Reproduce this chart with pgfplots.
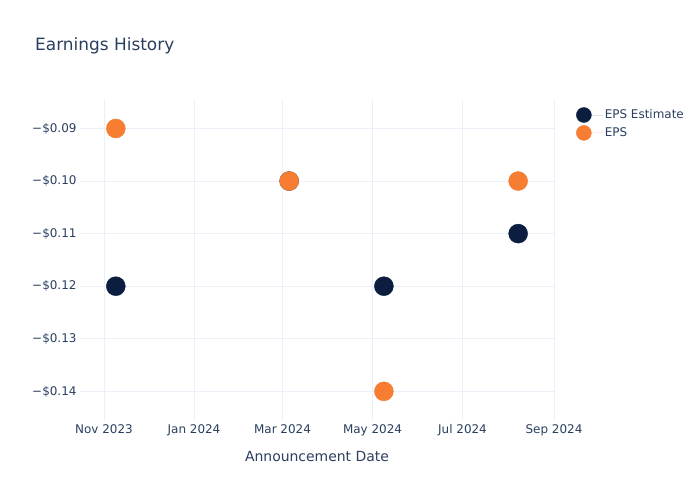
\documentclass[border=0pt]{standalone}
\usepackage{pgfplots}
\pgfplotsset{compat=1.18}
\usepackage{fontspec}
\setmainfont{DejaVu Sans}
\definecolor{txt}{HTML}{2A3F5F}
\definecolor{grid}{HTML}{EBF0F8}
\definecolor{navy}{RGB}{11,30,64}
\definecolor{orng}{RGB}{246,125,50}
\begin{document}
\begin{tikzpicture}[x=1bp,y=1bp]
\path[fill=white] (0,0) rectangle (700,500);
\node[anchor=base west, font=\fontsize{17}{20}\selectfont, text=txt, inner sep=0] at (35,449) {Earnings History};
\begin{axis}[
  at={(80bp,80bp)}, anchor=south west,
  width=474bp, height=320bp, scale only axis,
  xmin=-16.27, xmax=305,
  ymin=-0.14545, ymax=-0.08458,
  axis line style={draw=none},
  tick style={draw=none},
  xtick={0,61,121,182,243,305},
  xticklabels={Nov 2023,Jan 2024,Mar 2024,May 2024,Jul 2024,Sep 2024},
  ytick={-0.14,-0.13,-0.12,-0.11,-0.10,-0.09},
  yticklabels={{−\$0.14},{−\$0.13},{−\$0.12},{−\$0.11},{−\$0.10},{−\$0.09}},
  grid=major,
  major grid style={draw=grid, line width=0.8bp},
  ticklabel style={font=\fontsize{12}{14}\selectfont, text=txt},
  xticklabel style={yshift=-1bp},
  xlabel={Announcement Date},
  xlabel style={font=\fontsize{14}{16}\selectfont, text=txt, yshift=-8bp},
  legend style={at={(1.04,0.984)}, anchor=north west, draw=none, fill=none,
    font=\fontsize{12}{14}\selectfont, text=txt, row sep=2.5bp,
    legend cell align=left},
  legend image code/.code={\fill[#1] (0,0) circle (7.5bp); \path[draw=none] (0,0) -- (19bp,0);},
  clip=false,
]
\addplot[only marks, mark=*, mark size=9.5bp, color=navy, fill=navy, mark options={draw=navy}]
  coordinates {(8,-0.12) (125.5,-0.10) (189.7,-0.12) (280.7,-0.11)};
\addlegendentry{EPS Estimate}
\addplot[only marks, mark=*, mark size=9.5bp, color=orng, fill=orng, mark options={draw=orng}]
  coordinates {(8,-0.09) (125.5,-0.10) (189.7,-0.14) (280.7,-0.10)};
\addlegendentry{EPS}
\end{axis}
\end{tikzpicture}
\end{document}
